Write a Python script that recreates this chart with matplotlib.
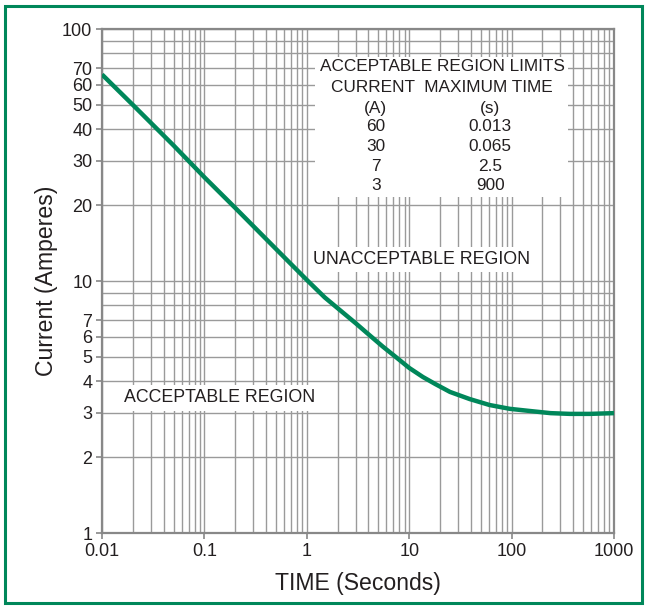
import numpy as np
import matplotlib
matplotlib.use("Agg")
import matplotlib.pyplot as plt
from matplotlib.ticker import FixedLocator, FixedFormatter, LogLocator, NullFormatter
from matplotlib.patches import Rectangle

plt.rcParams['font.family'] = ['Liberation Sans', 'DejaVu Sans']

# curve (seconds, amperes)
time_s = [0.01, 0.02, 0.05, 0.1, 0.2, 0.5, 1.0, 1.5, 2.0, 3.0, 3.9, 5.5, 7.6,
          10, 13.6, 18, 25, 39, 61, 96, 150, 240, 370, 580, 1000]
current_a = [66, 50, 34.5, 25.8, 19.5, 13.4, 10.1, 8.6, 7.8, 6.8, 6.2, 5.5, 4.95,
             4.52, 4.16, 3.9, 3.63, 3.40, 3.22, 3.11, 3.05, 2.99, 2.97, 2.97, 2.99]

# limits table
lim_current = ["60", "30", "7", "3"]
lim_time = ["0.013", "0.065", "2.5", "900"]

x_ticks = [0.01, 0.1, 1, 10, 100, 1000]
x_labels = ["0.01", "0.1", "1", "10", "100", "1000"]
y_ticks = [1, 2, 3, 4, 5, 6, 7, 10, 20, 30, 40, 50, 60, 70, 100]
y_labels = [str(v) for v in y_ticks]

green = "#00875a"
txt = "#231f20"
grey = "#9a9a9a"

fig = plt.figure(figsize=(6.47, 6.07), dpi=100)
ax = fig.add_axes([0.1577, 0.1219, 0.7913, 0.8303])

# green frame round the figure
fig.patches.append(Rectangle((0.007, 0.007), 0.986, 0.983, transform=fig.transFigure,
                             fill=False, edgecolor=green, linewidth=2.2))

ax.set_xscale("log")
ax.set_yscale("log")
ax.set_xlim(0.01, 1000)
ax.set_ylim(1, 100)

ax.xaxis.set_major_locator(FixedLocator(x_ticks))
ax.xaxis.set_major_formatter(FixedFormatter(x_labels))
ax.xaxis.set_minor_locator(LogLocator(base=10, subs=np.arange(2, 10)))
ax.xaxis.set_minor_formatter(NullFormatter())
ax.yaxis.set_major_locator(FixedLocator(y_ticks))
ax.yaxis.set_major_formatter(FixedFormatter(y_labels))
ax.yaxis.set_minor_locator(LogLocator(base=10, subs=np.arange(2, 10)))
ax.yaxis.set_minor_formatter(NullFormatter())

ax.grid(True, which="both", color=grey, linewidth=1.0, zorder=0)
ax.set_axisbelow(True)
ax.tick_params(which="major", length=4, width=1.2, color="#888888",
               labelsize=13, labelcolor=txt, pad=3)
ax.tick_params(which="minor", length=0)
for s in ax.spines.values():
    s.set_color("#888888")
    s.set_linewidth(1.6)

ax.plot(time_s, current_a, color=green, linewidth=3.2, solid_joinstyle="round",
        solid_capstyle="butt", zorder=3)

ax.set_xlabel("TIME (Seconds)", fontsize=16.6, color=txt, labelpad=9)
ax.set_ylabel("Current (Amperes)", fontsize=16.6, color=txt, labelpad=3)

# white panel behind the table
ax.add_patch(Rectangle((0.416, 0.667), 0.494, 0.277, transform=ax.transAxes,
                       facecolor="white", edgecolor="none", zorder=2))
fs = 12.4
ax.text(0.664, 0.925, "ACCEPTABLE REGION LIMITS", transform=ax.transAxes,
        ha="center", va="center", fontsize=fs, color=txt, zorder=4)
ax.text(0.664, 0.883, "CURRENT  MAXIMUM TIME", transform=ax.transAxes,
        ha="center", va="center", fontsize=fs, color=txt, zorder=4)
ax.text(0.535, 0.843, "(A)", transform=ax.transAxes, ha="center", va="center",
        fontsize=fs, color=txt, zorder=4)
ax.text(0.758, 0.843, "(s)", transform=ax.transAxes, ha="center", va="center",
        fontsize=fs, color=txt, zorder=4)
row_y = [0.806, 0.766, 0.728, 0.689]
for yy, a, t in zip(row_y, lim_current, lim_time):
    ax.text(0.535, yy, a, transform=ax.transAxes, ha="center", va="center",
            fontsize=fs, color=txt, zorder=4)
    ax.text(0.758, yy, t, transform=ax.transAxes, ha="center", va="center",
            fontsize=fs, color=txt, zorder=4)

box = dict(facecolor="white", edgecolor="none", pad=3)
ax.text(0.625, 0.542, "UNACCEPTABLE REGION", transform=ax.transAxes,
        ha="center", va="center", fontsize=12.8, color=txt, bbox=box, zorder=4)
ax.text(0.229, 0.268, "ACCEPTABLE REGION", transform=ax.transAxes,
        ha="center", va="center", fontsize=12.8, color=txt, bbox=box, zorder=4)

fig.savefig("out.png", dpi=100)
